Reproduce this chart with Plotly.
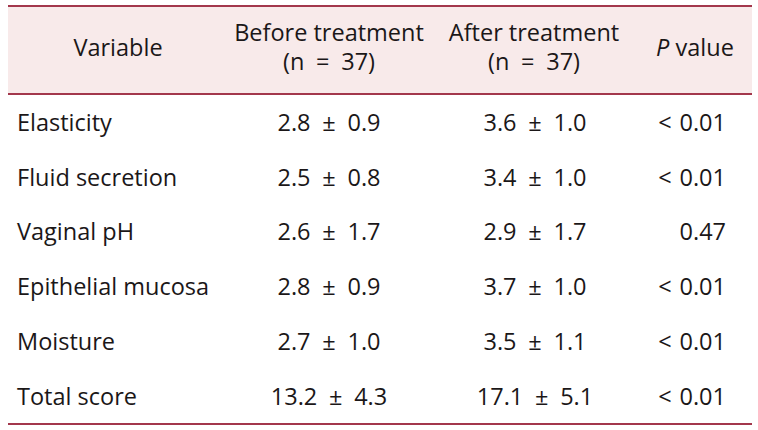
import plotly.graph_objects as go

SP = "\u2002"  # wide space used around ± and = in the reference

variables = ["Elasticity", "Fluid secretion", "Vaginal pH", "Epithelial mucosa", "Moisture", "Total score"]
before_mean = ["2.8", "2.5", "2.6", "2.8", "2.7", "13.2"]
before_sd = ["0.9", "0.8", "1.7", "0.9", "1.0", "4.3"]
after_mean = ["3.6", "3.4", "2.9", "3.7", "3.5", "17.1"]
after_sd = ["1.0", "1.0", "1.7", "1.0", "1.1", "5.1"]
pvalues = ["< 0.01", "< 0.01", "0.47", "< 0.01", "< 0.01", "< 0.01"]
n_before, n_after = 37, 37

before = [f"{m}{SP}±{SP}{s}" for m, s in zip(before_mean, before_sd)]
after = [f"{m}{SP}±{SP}{s}" for m, s in zip(after_mean, after_sd)]
pvals_txt = [p.replace("< ", "<\u2004") for p in pvalues]
header_main = ["Variable", "Before treatment", "After treatment", "<i>P</i>\u00a0value"]
header_sub = [f"(n{SP}={SP}{n_before})", f"(n{SP}={SP}{n_after})"]

W, H = 758, 430
FONT = "Open Sans"
FS = 23.5
TXT = "#1b1718"
LINE = "#a3374c"
BG = "#f8eaea"

row_y0, row_dy = 125, 54.8
ys = [row_y0 + i * row_dy for i in range(len(variables))]

fig = go.Figure()
tf = dict(family=FONT, size=FS, color=TXT)

def add_col(x, texts, pos, y):
    fig.add_trace(go.Scatter(x=[x] * len(texts), y=y, text=texts, mode="text",
                             textposition=pos, textfont=tf, hoverinfo="skip"))

add_col(17, variables, "middle right", ys)
add_col(329, before, "middle center", ys)
add_col(535, after, "middle center", ys)
add_col(726, pvals_txt, "middle left", ys)

# header
hx = [118, 329, 534, 695]
fig.add_trace(go.Scatter(x=hx, y=[50, 35, 35, 50], text=header_main, mode="text",
                         textposition="middle center", textfont=tf, hoverinfo="skip"))
fig.add_trace(go.Scatter(x=hx[1:3], y=[64, 64], text=header_sub, mode="text",
                         textposition="middle center", textfont=tf, hoverinfo="skip"))

fig.add_shape(type="rect", x0=8, x1=752, y0=6, y1=94, fillcolor=BG, line_width=0, layer="below")
for y in [6, 94, 424]:
    fig.add_shape(type="line", x0=8, x1=752, y0=y, y1=y, line=dict(color=LINE, width=2))

fig.update_layout(
    width=W, height=H, margin=dict(l=0, r=0, t=0, b=0),
    paper_bgcolor="white", plot_bgcolor="white", showlegend=False,
    xaxis=dict(range=[0, W], visible=False, fixedrange=True),
    yaxis=dict(range=[H, 0], visible=False, fixedrange=True),
)
fig.write_html("out.html", config={"displayModeBar": False},
               post_script="document.body.style.margin='0';document.body.style.overflow='hidden';")
